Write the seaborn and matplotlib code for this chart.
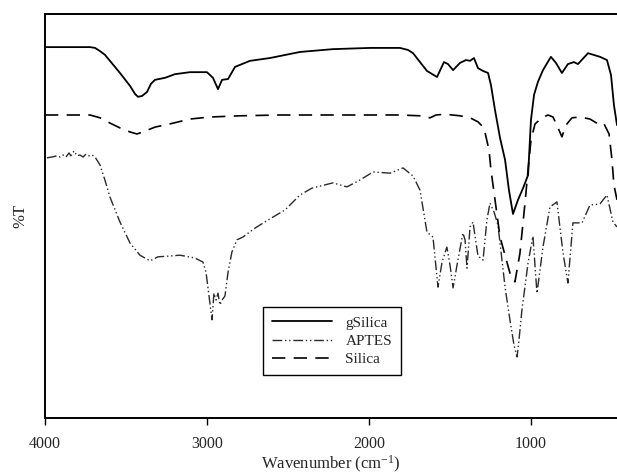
import matplotlib
matplotlib.use("Agg")
import matplotlib.pyplot as plt
import seaborn as sns

# FTIR spectra: wavenumber (cm^-1) and transmittance (%T, arbitrary offset units)
gsilica_wn = [4000, 3722, 3691, 3660, 3630, 3599, 3537, 3475, 3444, 3426, 3401, 3370,
              3346, 3321, 3259, 3198, 3105, 3000, 2963, 2932, 2907, 2870, 2827, 2735,
              2611, 2426, 2222, 1994, 1809, 1759, 1728, 1685, 1642, 1580, 1537, 1512,
              1481, 1438, 1401, 1376, 1352, 1327, 1296, 1265, 1247, 1222, 1191, 1160,
              1136, 1111, 1080, 1049, 1018, 1000, 981, 957, 926, 877, 846, 809, 772,
              735, 710, 648, 574, 531, 506, 488, 469]
gsilica_t = [91.8, 91.8, 91.6, 90.8, 89.9, 88.4, 85.4, 82.2, 80.2, 79.5, 79.7, 80.7,
             82.7, 83.7, 84.2, 85.1, 85.6, 85.6, 84.2, 81.4, 83.7, 83.9, 86.9, 88.4,
             89.1, 90.6, 91.3, 91.6, 91.6, 91.1, 90.3, 88.1, 85.9, 84.4, 88.1, 87.6,
             86.1, 87.9, 88.6, 88.4, 89.1, 86.6, 85.9, 85.4, 82.4, 76.2, 69.3, 63.9,
             56.4, 50.5, 54.0, 56.9, 60.1, 73.8, 80.0, 83.2, 86.1, 89.4, 87.9, 85.4,
             87.6, 88.1, 87.6, 90.3, 89.4, 88.6, 84.9, 77.5, 72.5]

aptes_wn = [3988, 3957, 3926, 3907, 3889, 3870, 3852, 3840, 3821, 3802, 3784, 3765,
            3747, 3728, 3710, 3691, 3660, 3630, 3599, 3537, 3475, 3414, 3352, 3302,
            3228, 3167, 3074, 3025, 3006, 2988, 2969, 2957, 2944, 2932, 2920, 2907,
            2889, 2870, 2846, 2815, 2778, 2704, 2611, 2518, 2426, 2352, 2222, 2136,
            2056, 1975, 1870, 1790, 1728, 1685, 1642, 1605, 1574, 1549, 1519, 1500,
            1481, 1451, 1420, 1407, 1395, 1376, 1358, 1327, 1296, 1272, 1253, 1228,
            1204, 1179, 1160, 1130, 1105, 1086, 1074, 1056, 1018, 988, 963, 926,
            883, 840, 802, 772, 741, 685, 636, 574, 531, 494, 469]
aptes_t = [64.4, 64.6, 64.9, 64.6, 65.1, 64.6, 65.6, 64.9, 66.1, 64.9, 65.1, 64.6,
           65.3, 64.9, 65.1, 64.6, 62.6, 58.9, 54.7, 48.5, 43.3, 40.3, 38.9, 39.9,
           40.1, 40.3, 39.6, 38.6, 36.1, 30.4, 24.3, 30.9, 29.2, 30.9, 28.0, 29.2,
           30.2, 36.1, 41.1, 44.1, 44.8, 47.0, 49.3, 51.5, 55.2, 56.9, 58.2, 57.2,
           58.9, 60.9, 60.6, 61.9, 59.9, 56.4, 46.0, 44.8, 32.4, 38.6, 42.3, 37.9,
           32.2, 39.1, 45.8, 44.1, 37.1, 47.3, 48.5, 40.1, 39.1, 49.0, 53.2, 51.0,
           47.8, 39.1, 32.4, 24.3, 18.1, 15.1, 19.3, 26.7, 38.4, 45.0, 30.9, 42.3,
           52.2, 53.5, 40.8, 33.4, 48.3, 48.3, 52.7, 53.0, 55.2, 48.5, 47.3]

silica_wn = [4000, 3722, 3660, 3599, 3537, 3475, 3432, 3383, 3321, 3228, 3105, 2981,
             2796, 2549, 1809, 1685, 1623, 1586, 1531, 1438, 1376, 1327, 1290, 1259,
             1247, 1191, 1130, 1099, 1068, 1037, 1018, 1000, 975, 932, 895, 864, 833,
             809, 784, 747, 698, 636, 574, 549, 518, 500, 488, 469]
silica_t = [75.0, 75.0, 74.3, 73.0, 71.8, 70.8, 70.3, 71.0, 72.0, 72.8, 74.0, 74.5,
            74.8, 75.0, 75.0, 74.8, 74.3, 75.0, 75.2, 74.8, 74.3, 73.3, 71.8, 66.3,
            61.4, 44.8, 35.9, 33.7, 40.8, 53.2, 61.4, 68.8, 72.8, 74.3, 75.0, 74.5,
            71.8, 69.6, 72.5, 74.3, 74.5, 74.0, 72.5, 72.8, 70.3, 63.9, 57.7, 54.0]

tick_values = [4000, 3000, 2000, 1000]
tick_labels = ["4000", "3000", "2000", "1000"]

sns.set_theme(style="white")
plt.rcParams["font.family"] = ["Liberation Serif", "DejaVu Serif"]
plt.rcParams["mathtext.fontset"] = "custom"
plt.rcParams["mathtext.rm"] = "Liberation Serif"
plt.rcParams["mathtext.default"] = "regular"

fig = plt.figure(figsize=(6.17, 4.74), dpi=100)
ax = fig.add_axes([0.0729, 0.1181, 0.9271, 0.8524])

sns.lineplot(x=gsilica_wn, y=gsilica_t, ax=ax, color="black", linewidth=1.3,
             linestyle="-", label="gSilica", estimator=None, sort=False)
sns.lineplot(x=aptes_wn, y=aptes_t, ax=ax, color="#2a2a2a", linewidth=1.0,
             linestyle=(0, (7, 2, 1, 2, 1, 2)), label="APTES", estimator=None, sort=False)
sns.lineplot(x=silica_wn, y=silica_t, ax=ax, color="black", linewidth=1.2,
             linestyle=(0, (8, 5)), label="Silica", estimator=None, sort=False)

ax.set_xlim(4000, 469)
ax.set_ylim(0, 100)
ax.set_xticks(tick_values)
ax.set_xticklabels(tick_labels, fontsize=11.5)
ax.set_yticks([])
ax.tick_params(axis="x", direction="out", length=5, width=1, color="black",
               bottom=True, pad=8)

for side in ("left", "top", "bottom"):
    ax.spines[side].set_color("black")
    ax.spines[side].set_linewidth(1.4)
ax.spines["right"].set_visible(False)

ax.set_xlabel("Wavenumber (cm$^{-1}$)", fontsize=12, labelpad=1)
ax.set_ylabel("%T", fontsize=12, labelpad=12)

leg = ax.legend(loc="upper left", bbox_to_anchor=(0.381, 0.275), fontsize=11,
                frameon=True, fancybox=False, edgecolor="black", framealpha=1,
                handlelength=3.9, handletextpad=0.9, labelspacing=0.3,
                borderpad=0.6, borderaxespad=0)
leg.get_frame().set_linewidth(1.0)

fig.savefig("out.png", dpi=100)
